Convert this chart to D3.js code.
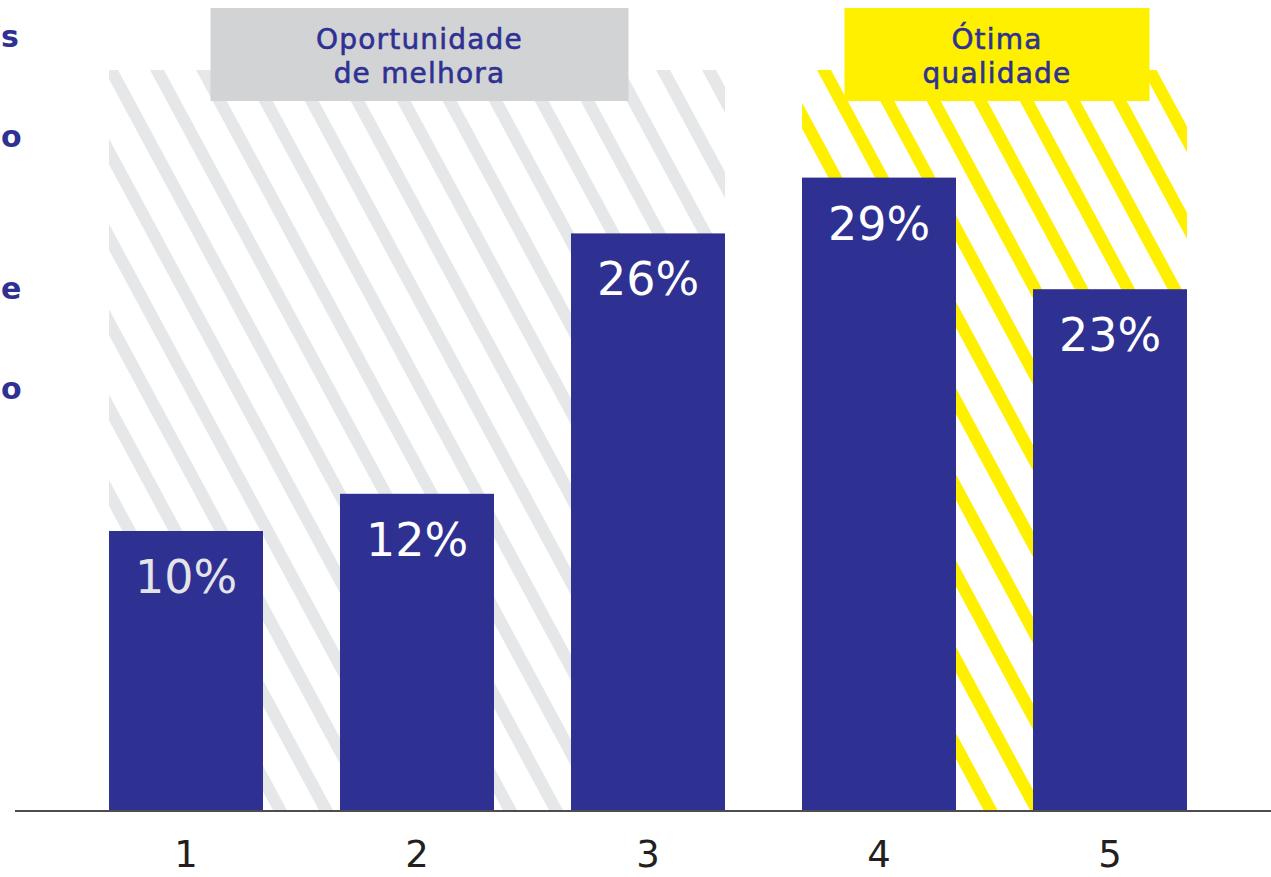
<!DOCTYPE html>
<html lang="pt">
<head>
<meta charset="utf-8">
<title>Distribuição das notas</title>
<script src="https://cdn.jsdelivr.net/npm/d3@7"></script>
<style>
  html, body { margin: 0; padding: 0; background: #ffffff; overflow: hidden; }
  svg { display: block; }
  text { font-family: "DejaVu Sans", "Noto Sans", sans-serif; }
</style>
</head>
<body>
<svg id="chart" width="1271" height="877"></svg>
<script>
// Notes 1 to 5 and the share of answers for each
const categories = ["1", "2", "3", "4", "5"];
const values = [10, 12, 26, 29, 23];
const valueLabels = ["10%", "12%", "26%", "29%", "23%"];

// Grouped ranges shown with a striped background and a heading box
const groupNames = ["melhora", "otima"];
const groupTitles = [["Oportunidade", "de melhora"], ["Ótima", "qualidade"]];
const groupFirst = ["1", "4"];
const groupLast = ["3", "5"];

// Trailing letters of the side text block at the left edge
const sideLetters = ["s", "o", "e", "o"];

const W = 1271, H = 877;
const baseY = 810, stripeTop = 70;
const navy = "#2e3192";
const groupStyle = {
  melhora: { stripe: "#e6e7e8", box: "#d1d3d4", boxW: 418, phase: 150, period: 46 },
  otima:   { stripe: "#fff000", box: "#fff000", boxW: 305, phase: 817, period: 46.5 }
};
const stripeW = 14, slope = 1.855;

const svg = d3.select("#chart");

const x = d3.scaleBand()
  .domain(categories)
  .range([70.5, 1225.5])
  .paddingInner(1 / 3)
  .paddingOuter(1 / 6);

const y = d3.scaleLinear()
  .domain([-5, 30])
  .range([baseY, baseY - 35 * 18.6]);

const defs = svg.append("defs");

// Striped backgrounds behind each group of bars
groupNames.forEach((g, gi) => {
  const st = groupStyle[g];
  const x0 = x(groupFirst[gi]);
  const x1 = x(groupLast[gi]) + x.bandwidth();
  defs.append("clipPath").attr("id", "clip-" + g)
    .append("rect")
    .attr("x", x0).attr("y", stripeTop)
    .attr("width", x1 - x0).attr("height", baseY - stripeTop);

  const run = (baseY - stripeTop) / slope;
  const kMin = Math.floor((x0 - run - stripeW - st.phase) / st.period);
  const kMax = Math.ceil((x1 - st.phase) / st.period);
  const starts = d3.range(kMin, kMax + 1).map(k => st.phase + k * st.period);

  svg.append("g").attr("clip-path", `url(#clip-${g})`)
    .selectAll("polygon").data(starts).join("polygon")
    .attr("points", a => [
      [a, stripeTop], [a + stripeW, stripeTop],
      [a + stripeW + run, baseY], [a + run, baseY]
    ].map(p => p.join(",")).join(" "))
    .attr("fill", st.stripe);
});

// Heading boxes over each group
groupNames.forEach((g, gi) => {
  const st = groupStyle[g];
  const x0 = x(groupFirst[gi]);
  const x1 = x(groupLast[gi]) + x.bandwidth();
  const cx = (x0 + x1) / 2 + 2.5;
  const hg = svg.append("g");
  hg.append("rect")
    .attr("x", cx - st.boxW / 2).attr("y", 8)
    .attr("width", st.boxW).attr("height", 93)
    .attr("fill", st.box);
  hg.selectAll("text").data(groupTitles[gi]).join("text")
    .attr("x", cx)
    .attr("y", (d, i) => 49 + i * 34)
    .attr("text-anchor", "middle")
    .attr("font-size", 28)
    .attr("letter-spacing", 1.2)
    .attr("fill", navy)
    .attr("stroke", navy)
    .attr("stroke-width", 0.6)
    .text(d => d);
});

// Bars
svg.append("g").selectAll("rect").data(values).join("rect")
  .attr("x", (d, i) => x(categories[i]))
  .attr("y", d => y(d))
  .attr("width", x.bandwidth())
  .attr("height", d => y(-5) - y(d))
  .attr("fill", navy);

// Value labels inside the bars
svg.append("g").selectAll("text").data(values).join("text")
  .attr("x", (d, i) => x(categories[i]) + x.bandwidth() / 2)
  .attr("y", d => y(d) + 62)
  .attr("text-anchor", "middle")
  .attr("font-size", 46)
  .attr("fill", (d, i) => i === 0 ? "#e3e4ea" : "#ffffff")
  .text((d, i) => valueLabels[i]);

// Baseline
svg.append("line")
  .attr("x1", 15).attr("x2", W)
  .attr("y1", baseY + 1).attr("y2", baseY + 1)
  .attr("stroke", "#4d4d4f").attr("stroke-width", 2);

// Category axis
const axis = svg.append("g")
  .attr("transform", `translate(0,${baseY})`)
  .call(d3.axisBottom(x).tickSize(0).tickPadding(31));
axis.select(".domain").remove();
axis.selectAll("text")
  .attr("font-size", 37)
  .attr("font-family", "'DejaVu Sans Condensed', 'DejaVu Sans', sans-serif")
  .attr("fill", "#231f20");

// Side text letters along the left edge
svg.append("g").selectAll("text").data(sideLetters).join("text")
  .attr("x", 1)
  .attr("y", (d, i) => [47, 147, 299, 399][i])
  .attr("text-anchor", "start")
  .attr("font-size", 30)
  .attr("font-weight", "bold")
  .attr("fill", navy)
  .text(d => d);
</script>
</body>
</html>
